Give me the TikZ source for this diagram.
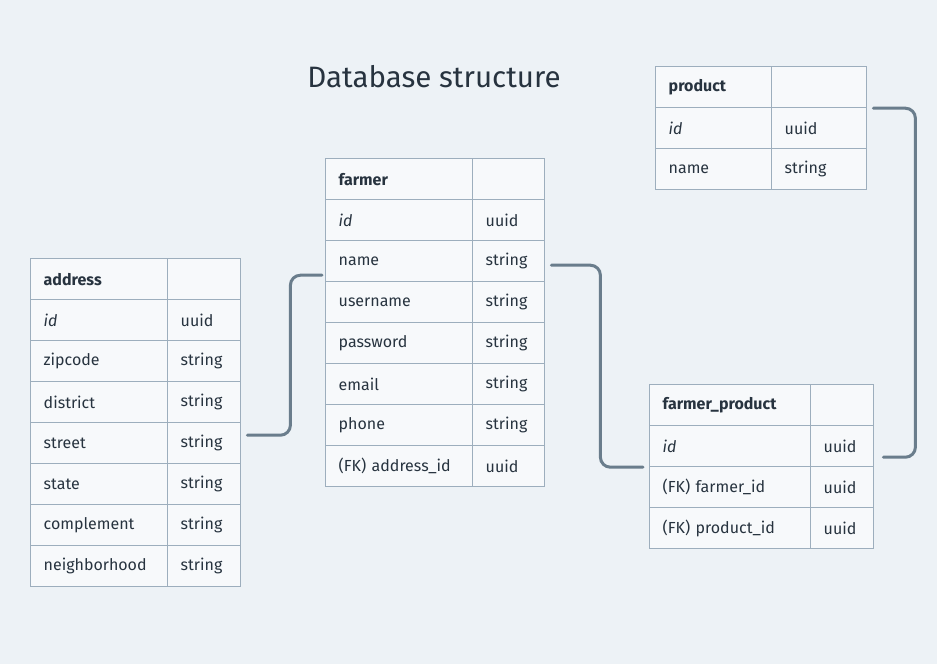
\documentclass[tikz,border=0pt]{standalone}
\usepackage{fontspec}
\setmainfont{Fira Sans}
\usepackage{tikz}
\usetikzlibrary{positioning,
                calc}                       % shifted connector ends

\definecolor{bgblue}{HTML}{EDF2F6}
\definecolor{cellfill}{HTML}{F7F9FB}
\definecolor{cellline}{HTML}{9DAEBD}
\definecolor{inkdark}{HTML}{27333F}
\definecolor{linkgrey}{HTML}{6A7D8C}

\tikzset{
  cell/.style={draw=cellline, fill=cellfill, line width=1.4pt,
               minimum height=41pt, inner xsep=13pt, inner ysep=0pt,
               align=left, text=inkdark,
               font=\fontsize{16}{19}\selectfont},
  link/.style={draw=linkgrey, line width=3pt, rounded corners=10pt,
               line cap=round},
}

% one table: name, left, top, key width, type width, rows
\newcommand{\dbtable}[6]{%
  \pgfmathsetmacro\kw{#4-26}
  \pgfmathsetmacro\tw{#5-26}
  \foreach [count=\i from 0] \k/\t in {#6} {
    \node[cell, text width=\kw pt, anchor=north west] (#1-k\i) at (#2,#3+\i*41) {\k};
    \node[cell, text width=\tw pt, anchor=north west] (#1-t\i) at (#2+#4,#3+\i*41) {\t};
  }
}

\begin{document}
\begin{tikzpicture}[x=1pt, y=-1pt]
    \fill[bgblue] (0,0) rectangle (937,664);
    \useasboundingbox (0,0) rectangle (937,664);

    \node[text=inkdark, font=\fontsize{29.5}{34}\selectfont] (title) at (434,77) {Database structure};

    \dbtable{address}{30}{258}{137}{73}{{\textbf{address}}/{}, {\textit{id}}/uuid,
      zipcode/string, district/string, street/string, state/string,
      complement/string, neighborhood/string}
    \dbtable{farmer}{325}{158}{147}{72}{{\textbf{farmer}}/{}, {\textit{id}}/uuid,
      name/string, username/string, password/string, email/string,
      phone/string, (FK) address\_id/uuid}
    \dbtable{product}{655}{66}{116}{95}{{\textbf{product}}/{}, {\textit{id}}/uuid,
      name/string}
    \dbtable{fp}{649}{384}{161}{63}{{\textbf{farmer\_product}}/{}, {\textit{id}}/uuid,
      (FK) farmer\_id/uuid, (FK) product\_id/uuid}

    % connector ends, a little off the tables
    \coordinate (street-end) at ($(address-t4.east)+(6,-8)$);
    \coordinate (name-in)    at ($(farmer-k2.west)+(-3,14)$);
    \coordinate (name-out)   at ($(farmer-t2.east)+(6,4)$);
    \coordinate (fp-in)      at ($(fp-k1.west)+(-6,21)$);
    \coordinate (prod-out)   at ($(product-t1.east)+(6,-20)$);
    \coordinate (fp-out)     at ($(fp-t1.east)+(9,11)$);

    \draw[link] (street-end) -- ++(43,0) |- (name-in);
    \draw[link] (name-out) -- ++(49,0) |- (fp-in);
    \draw[link] (prod-out) -- ++(42,0) |- (fp-out);
\end{tikzpicture}
\end{document}
